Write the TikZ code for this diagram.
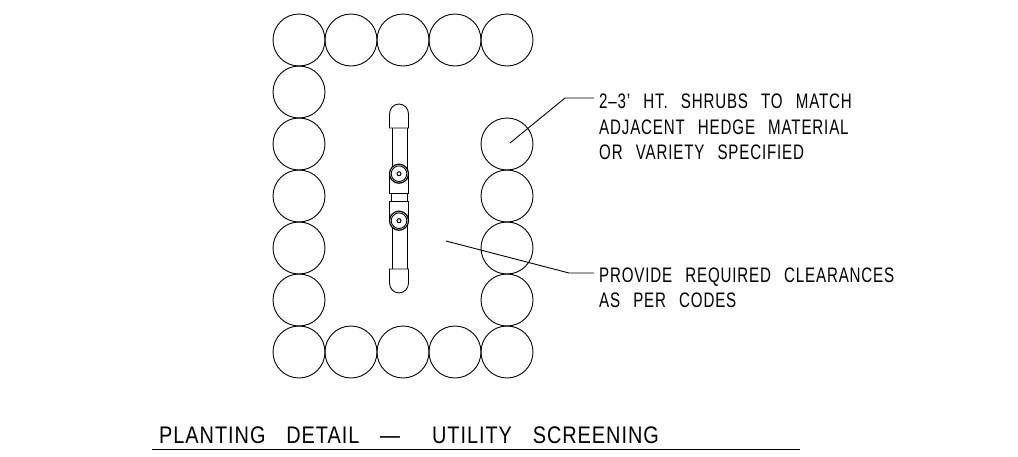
\documentclass[tikz,border=0pt]{standalone}
\usepackage{fontspec}
\setmainfont{Liberation Sans}
\newfontfamily\cadfont[FakeStretch=0.72,LetterSpace=4,WordSpace=2.6]{Liberation Sans}
\newfontfamily\cadtitle[FakeStretch=0.83,LetterSpace=4,WordSpace=3.2]{Liberation Sans}
\tikzset{
  shrub/.style={circle,draw,line width=0.9pt,minimum size=52pt,inner sep=0pt},
  ln/.style={line width=0.9pt},
  lbl/.style={inner sep=0pt,anchor=base west,font=\cadfont\fontsize{21}{24}\selectfont},
}
\begin{document}
\begin{tikzpicture}[x=1pt,y=-1pt]
\useasboundingbox (0,0) rectangle (1018,456);
\foreach \n/\x/\y in {a/299/40,b/351/40,c/403/40,d/455/40,e/507/40,f/299/92,g/299/144,h/299/196,i/299/248,j/299/300,k/299/352,l/351/352,m/403/352,n/455/352,o/507/352,p/507/300,q/507/248,r/507/196,s/507/144}
  \node[shrub] (s\n) at (\x,\y) {};
% utility: end caps
\draw[ln] (389.5,128) -- (389.5,114) arc (180:360:9.5 and 10) -- (408.5,128) -- cycle;
\draw[ln] (389.5,269) -- (389.5,283) arc (180:0:9.5 and 10) -- (408.5,269) -- cycle;
% stems
\draw[ln] (392,128) -- (392,173) (407,128) -- (407,173);
\draw[ln] (392,221) -- (392,269) (407,221) -- (407,269);
% centre coupling
\draw[ln] (391,193) rectangle (407,201);
\draw[ln] (389.5,173) -- (389.5,193) -- (408.5,193) -- (408.5,173);
\draw[ln] (389.5,221) -- (389.5,201) -- (408.5,201) -- (408.5,221);
\draw[ln] (389.5,181) arc (180:360:9.5 and 10);
\draw[ln] (389.5,213) arc (180:0:9.5 and 10);
\fill[white] (399,173.7) circle (9.5) (399,220.7) circle (9.5);
\draw[line width=1.2pt] (399,173.7) circle (9.5) (399,220.7) circle (9.5);
\draw[ln] (399,173.7) circle (7.8) (399,220.7) circle (7.8);
\draw[line width=1pt] (399,173.7) circle (2) (399,220.7) circle (2);
% leaders
\coordinate (t1) at (565,98);
\coordinate (t2) at (594,98);
\coordinate (u1) at (569,273);
\coordinate (u2) at (594,273);
\coordinate (p1) at (510,143);
\coordinate (p2) at (446,241);
\draw[ln] (p1) -- (t1) -- (t2);
\draw[ln] (p2) -- (u1) -- (u2);
\node[lbl] (n1) at (599,108) {2–3’ HT. SHRUBS TO MATCH};
\node[lbl] (n2) at (599,134) {ADJACENT HEDGE MATERIAL};
\node[lbl] (n3) at (599,159) {OR VARIETY SPECIFIED};
\node[lbl] (n4) at (599,282) {PROVIDE REQUIRED CLEARANCES};
\node[lbl] (n5) at (599,307) {AS PER CODES};
\node[lbl,font=\cadtitle\fontsize{24}{28}\selectfont] (ttl) at (159,443.5) {PLANTING DETAIL —\hspace{32pt}UTILITY SCREENING};
\coordinate (r1) at (152,449.5);
\coordinate (r2) at (800,449.5);
\draw[line width=1.2pt] (r1) -- (r2);
\end{tikzpicture}
\end{document}
